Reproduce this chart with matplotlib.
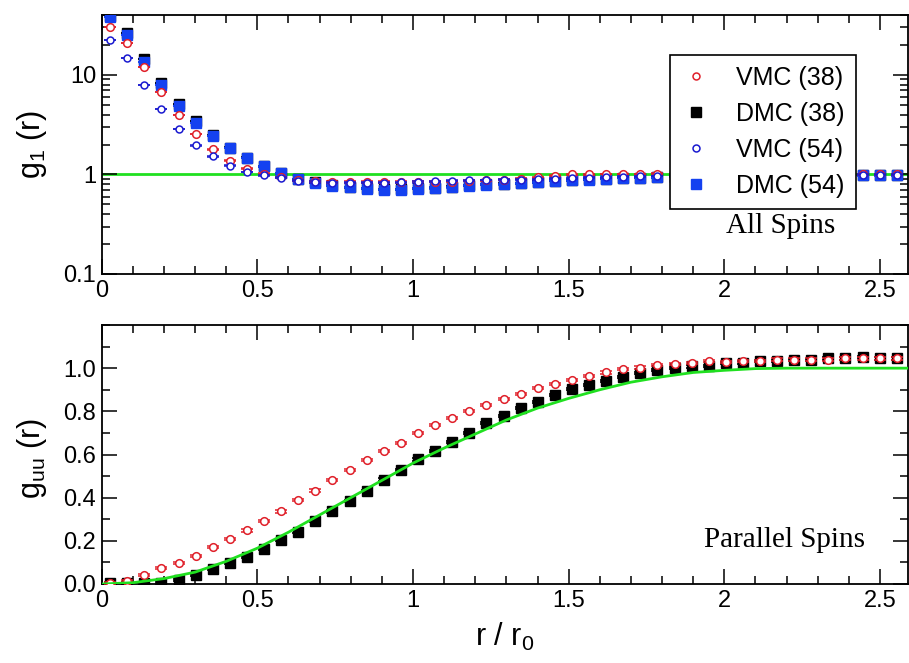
import matplotlib
matplotlib.use("Agg")
import matplotlib.pyplot as plt
from matplotlib.lines import Line2D
from matplotlib.ticker import FixedLocator, MultipleLocator, LogLocator, NullFormatter, FuncFormatter

plt.rcParams['font.family'] = ['Liberation Sans', 'DejaVu Sans']
plt.rcParams['mathtext.fontset'] = 'custom'
plt.rcParams['mathtext.rm'] = 'Liberation Sans'
plt.rcParams['mathtext.it'] = 'Liberation Sans'

# radial bin centres, r / r0
r = [0.027, 0.082, 0.137, 0.192, 0.247, 0.302, 0.357, 0.412, 0.467, 0.521,
     0.576, 0.631, 0.686, 0.741, 0.796, 0.851, 0.906, 0.961, 1.016, 1.071,
     1.126, 1.181, 1.236, 1.291, 1.346, 1.400, 1.455, 1.510, 1.565, 1.620,
     1.675, 1.730, 1.785, 1.840, 1.895, 1.950, 2.005, 2.060, 2.115, 2.170,
     2.225, 2.279, 2.334, 2.389, 2.444, 2.499, 2.554]

# g_1(r), all spins
g1_vmc38 = [30.0, 21.0, 12.0, 6.8, 3.95, 2.54, 1.79, 1.38, 1.14, 1.02,
            0.94, 0.87, 0.85, 0.84, 0.84, 0.84, 0.84, 0.84, 0.845, 0.845,
            0.845, 0.86, 0.875, 0.89, 0.91, 0.94, 0.97, 1.0, 1.0, 1.01,
            1.01, 1.01, 1.02, 1.0, 1.0, 1.0, 1.0, 1.0, 1.0, 1.0,
            1.0, 1.0, 1.0, 1.0, 1.0, 1.0, 1.0]
g1_dmc38 = [39.5, 26.5, 14.3, 8.3, 5.15, 3.42, 2.47, 1.86, 1.48, 1.21,
            1.03, 0.90, 0.835, 0.775, 0.745, 0.725, 0.712, 0.712, 0.725, 0.738,
            0.752, 0.775, 0.795, 0.805, 0.82, 0.84, 0.868, 0.872, 0.892, 0.907,
            0.925, 0.932, 0.942, 0.952, 0.96, 0.965, 0.97, 0.975, 0.977, 0.98,
            0.98, 0.982, 0.985, 0.985, 0.987, 0.987, 0.987]
g1_vmc54 = [22.6, 14.7, 7.9, 4.54, 2.87, 1.96, 1.52, 1.23, 1.06, 0.98,
            0.925, 0.86, 0.84, 0.83, 0.83, 0.83, 0.83, 0.835, 0.84, 0.85,
            0.86, 0.87, 0.88, 0.885, 0.89, 0.90, 0.91, 0.92, 0.93, 0.94,
            0.95, 0.96, 0.965, 0.97, 0.975, 0.975, 0.98, 0.98, 0.985, 0.985,
            0.985, 0.99, 0.99, 0.99, 0.99, 0.99, 0.99]
g1_dmc54 = [38.0, 25.4, 13.6, 7.9, 4.9, 3.3, 2.42, 1.84, 1.47, 1.21,
            1.03, 0.90, 0.83, 0.77, 0.74, 0.72, 0.705, 0.705, 0.72, 0.73,
            0.745, 0.77, 0.79, 0.80, 0.815, 0.835, 0.865, 0.87, 0.89, 0.905,
            0.925, 0.93, 0.94, 0.95, 0.96, 0.965, 0.97, 0.975, 0.975, 0.98,
            0.98, 0.98, 0.985, 0.985, 0.985, 0.985, 0.985]
g1_ref_r = [0.0, 2.6]
g1_ref = [1.0, 1.0]

# g_uu(r), parallel spins
guu_vmc38 = [0.005, 0.012, 0.042, 0.073, 0.096, 0.13, 0.171, 0.208, 0.248, 0.29,
             0.336, 0.388, 0.433, 0.481, 0.527, 0.574, 0.616, 0.655, 0.698, 0.735,
             0.77, 0.802, 0.828, 0.859, 0.882, 0.907, 0.926, 0.946, 0.964, 0.98,
             0.995, 1.003, 1.014, 1.019, 1.023, 1.034, 1.03, 1.035, 1.035, 1.04,
             1.04, 1.04, 1.04, 1.045, 1.045, 1.045, 1.045]
guu_dmc38 = [0.003, 0.006, 0.003, 0.006, 0.018, 0.042, 0.068, 0.096, 0.127, 0.163,
             0.205, 0.243, 0.29, 0.336, 0.383, 0.43, 0.484, 0.53, 0.577, 0.616,
             0.659, 0.70, 0.745, 0.778, 0.814, 0.845, 0.874, 0.902, 0.921, 0.941,
             0.961, 0.977, 0.992, 1.0, 1.008, 1.011, 1.022, 1.026, 1.034, 1.034,
             1.037, 1.037, 1.045, 1.045, 1.05, 1.045, 1.045]
guu_ref_r = [0.0, 0.1, 0.2, 0.3, 0.4, 0.5, 0.6, 0.7, 0.8, 0.9, 1.0, 1.1, 1.2,
             1.3, 1.4, 1.5, 1.6, 1.7, 1.8, 1.9, 2.0, 2.1, 2.2, 2.6]
guu_ref = [0.0, 0.006, 0.025, 0.055, 0.105, 0.166, 0.24, 0.32, 0.40, 0.48, 0.56,
           0.63, 0.695, 0.76, 0.815, 0.86, 0.90, 0.935, 0.96, 0.98, 0.99, 0.998,
           1.0, 1.0]

err_g1 = 0.01
err_guu = 0.005

x_ticks = [0, 0.5, 1, 1.5, 2, 2.5]
g1_ticks = [0.1, 1, 10]
guu_ticks = [0.0, 0.2, 0.4, 0.6, 0.8, 1.0]

RED = '#e0202a'
BLACK = '#000000'
DBLUE = '#1a1ad0'
BLUE = '#1441f0'
GREEN = '#20e020'

W, H = 909, 663
fig = plt.figure(figsize=(W / 100, H / 100), dpi=100)


def axes_px(x0, y0, x1, y1):
    return fig.add_axes([x0 / W, 1 - y1 / H, (x1 - x0) / W, (y1 - y0) / H])


def fig_text(x, y, s, **kw):
    return fig.text(x / W, 1 - y / H, s, **kw)


ax1 = axes_px(101.7, 15, 908, 274)
ax2 = axes_px(101.7, 325, 908, 584)

cap = dict(capsize=4.5, capthick=1.2, elinewidth=1.0, linestyle='none')

# --- all spins, log scale ---
ax1.plot(g1_ref_r, g1_ref, color=GREEN, lw=2.0, zorder=1)
ax1.errorbar(r, g1_dmc38, yerr=err_g1, fmt='s', ms=7, color=BLACK, zorder=2, **cap)
ax1.errorbar(r, g1_dmc54, yerr=err_g1, fmt='s', ms=7, color=BLUE, zorder=3, **cap)
ax1.errorbar(r, g1_vmc38, yerr=err_g1, fmt='o', ms=5.5, color=RED, mfc='white',
             mew=1.1, zorder=4, **cap)
ax1.errorbar(r, g1_vmc54, yerr=err_g1, fmt='o', ms=5, color=DBLUE, mfc='white',
             mew=1.1, zorder=5, **cap)
ax1.set_yscale('log')
ax1.set_ylim(0.1, 40)
ax1.yaxis.set_major_locator(FixedLocator(g1_ticks))
ax1.yaxis.set_major_formatter(FuncFormatter(lambda v, p: '%g' % v))
ax1.yaxis.set_minor_locator(LogLocator(base=10, subs=range(2, 10)))
ax1.yaxis.set_minor_formatter(NullFormatter())

# --- parallel spins ---
ax2.errorbar(r, guu_dmc38, yerr=err_guu, fmt='s', ms=7, color=BLACK, zorder=2, **cap)
ax2.errorbar(r, guu_vmc38, yerr=err_guu, fmt='o', ms=5.5, color=RED, mfc='white',
             mew=1.1, zorder=3, **cap)
ax2.plot(guu_ref_r, guu_ref, color=GREEN, lw=2.0, zorder=4)
ax2.set_ylim(0, 1.2)
ax2.yaxis.set_major_locator(FixedLocator(guu_ticks))
ax2.yaxis.set_major_formatter(FuncFormatter(lambda v, p: '%.1f' % v))
ax2.yaxis.set_minor_locator(MultipleLocator(0.1))

for ax in (ax1, ax2):
    ax.set_xlim(0, 2.59)
    ax.xaxis.set_major_locator(FixedLocator(x_ticks))
    ax.xaxis.set_major_formatter(FuncFormatter(lambda v, p: '%g' % v))
    ax.xaxis.set_minor_locator(MultipleLocator(0.1))
    ax.tick_params(which='both', direction='in', top=True, right=True,
                   labelsize=17, width=1.1, pad=4)
    ax.tick_params(which='major', length=11)
    ax.tick_params(which='minor', length=6)
    for s in ax.spines.values():
        s.set_linewidth(1.3)

handles = [
    Line2D([], [], marker='o', ms=5, color=RED, mfc='white', mew=1.1, ls='none'),
    Line2D([], [], marker='s', ms=7, color=BLACK, ls='none'),
    Line2D([], [], marker='o', ms=5, color=DBLUE, mfc='white', mew=1.1, ls='none'),
    Line2D([], [], marker='s', ms=7, color=BLUE, ls='none'),
]
labels = ['VMC (38)', 'DMC (38)', 'VMC (54)', 'DMC (54)']
leg = ax1.legend(handles, labels, loc='upper left', bbox_to_anchor=(0.705, 0.846),
                 borderaxespad=0, fontsize=18, frameon=True, fancybox=False,
                 edgecolor='black', framealpha=1, handlelength=1.2,
                 handletextpad=1.0, labelspacing=0.48, borderpad=0.45)
leg.get_frame().set_linewidth(1.2)
leg.set_zorder(10)

fig_text(781, 226, 'All Spins', fontsize=21, family='Liberation Serif',
         ha='center', va='center')
fig_text(785, 540, 'Parallel Spins', fontsize=21, family='Liberation Serif',
         ha='center', va='center')

fig_text(32, 144, r'g$_{\mathregular{1}}$ (r)', rotation=90, fontsize=22,
         ha='center', va='center')
fig_text(32, 458, r'g$_{\mathregular{uu}}$ (r)', rotation=90, fontsize=22,
         ha='center', va='center')
fig_text(505, 637, r'r / r$_{\mathregular{0}}$', fontsize=22,
         ha='center', va='center')

fig.savefig('out.png', dpi=100)
